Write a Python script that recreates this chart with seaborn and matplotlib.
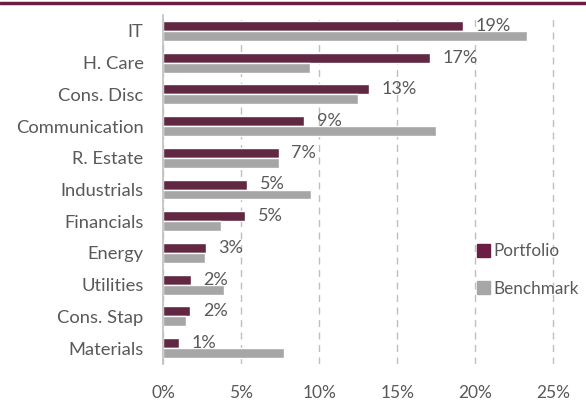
import matplotlib
matplotlib.use("Agg")
import matplotlib.pyplot as plt
from matplotlib.lines import Line2D
import seaborn as sns
import pandas as pd

sectors = ["IT", "H. Care", "Cons. Disc", "Communication", "R. Estate", "Industrials",
           "Financials", "Energy", "Utilities", "Cons. Stap", "Materials"]
portfolio = [19.2, 17.1, 13.2, 9.05, 7.4, 5.4, 5.26, 2.75, 1.8, 1.75, 1.0]
benchmark = [23.3, 9.4, 12.5, 17.5, 7.45, 9.45, 3.7, 2.7, 3.9, 1.5, 7.75]
xticks = [0, 5, 10, 15, 20, 25]

maroon = "#6B1D43"
grey = "#A6A6A6"
text_col = "#595959"

df = pd.DataFrame({"sector": sectors * 2,
                   "weight": portfolio + benchmark,
                   "series": ["Portfolio"] * len(sectors) + ["Benchmark"] * len(sectors)})

sns.set_theme(style="white")
plt.rcParams["font.family"] = ["Lato", "DejaVu Sans"]

fig = plt.figure(figsize=(5.86, 4.03), dpi=100)
ax = fig.add_axes([163 / 586, 1 - 364 / 403, (569 - 163) / 586, (364 - 15) / 403])

sns.barplot(data=df, y="sector", x="weight", hue="series", order=sectors,
            palette=[maroon, grey], width=0.63, gap=0, dodge=True, ax=ax, legend=False)

ax.set_xlim(0, 26)
ax.set_ylim(10.5, -0.5)
ax.set_xticks(xticks)
ax.set_xticklabels([f"{t}%" for t in xticks])
ax.set_xlabel("")
ax.set_ylabel("")
ax.grid(axis="x", color="#BFBFBF", linestyle=(0, (5, 4)), linewidth=1)
ax.set_axisbelow(True)
for s in ["top", "right", "bottom"]:
    ax.spines[s].set_visible(False)
ax.spines["left"].set_color("#BFBFBF")
ax.spines["left"].set_linewidth(1.2)
ax.tick_params(axis="x", length=0, pad=15, labelsize=12.5, labelcolor=text_col)
ax.tick_params(axis="y", length=0, pad=14, labelsize=13.2, labelcolor=text_col)

# value labels next to the portfolio bars
for i, v in enumerate(portfolio):
    ax.annotate(f"{round(v)}%", xy=(v, i - 0.16), xytext=(9, 0), textcoords="offset points",
                ha="left", va="center", fontsize=13, color=text_col)

handles = [plt.Rectangle((0, 0), 1, 1, color=maroon), plt.Rectangle((0, 0), 1, 1, color=grey)]
fig.legend(handles, ["Portfolio", "Benchmark"], loc="center left",
           bbox_to_anchor=(462 / 586, 1 - 270 / 403), frameon=False,
           handlelength=0.75, handleheight=0.75, handletextpad=0.2, labelspacing=1.25,
           prop={"size": 12.3}, labelcolor=text_col)

fig.add_artist(Line2D([0, 1], [1 - 3 / 403, 1 - 3 / 403], color=maroon, linewidth=2.5))

fig.savefig("out.png", dpi=100)
